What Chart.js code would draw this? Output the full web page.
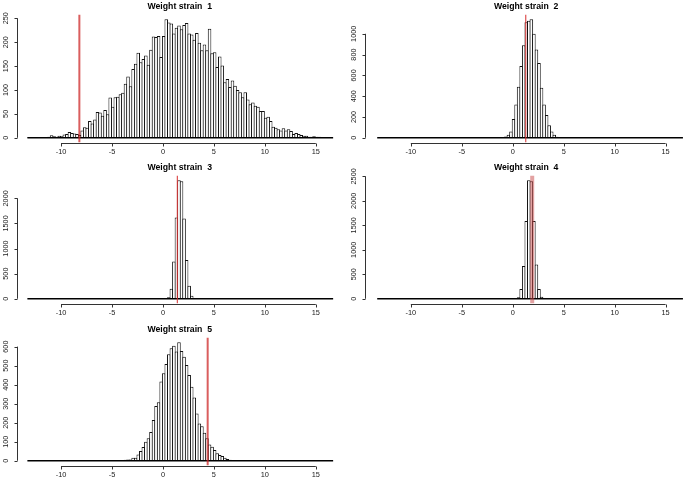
<!DOCTYPE html>
<html>
<head>
<meta charset="utf-8">
<title>Weight strain histograms</title>
<script src="https://cdn.jsdelivr.net/npm/chart.js@4.4.1/dist/chart.umd.min.js"></script>
<style>
  html, body { margin: 0; padding: 0; background: #fff; }
  #page { position: relative; width: 686px; height: 484px; overflow: hidden; }
  canvas { position: absolute; }
</style>
</head>
<body>
<div id="page">
  <canvas id="strain1" width="343" height="161" style="left:0;top:0"></canvas>
  <canvas id="strain2" width="343" height="161" style="left:343px;top:0"></canvas>
  <canvas id="strain3" width="343" height="161" style="left:0;top:161px"></canvas>
  <canvas id="strain4" width="343" height="161" style="left:343px;top:161px"></canvas>
  <canvas id="strain5" width="343" height="161" style="left:0;top:323px"></canvas>
</div>
<script>
// histogram breaks shared by all five panels
var breakStart = -13.3;
var binWidth = 0.25;
var binCount = 120;

var titles = ["Weight strain  1", "Weight strain  2", "Weight strain  3", "Weight strain  4", "Weight strain  5"];

// counts per bin; "first" = index of the first listed bin, bins outside are empty
var strain1First = 0;
var strain1Counts = [1,1,0,1,1,0,1,1,2,5,
  3,2,4,3,7,8,12,10,9,8,
  6,15,22,21,35,30,38,54,53,46,
  58,49,84,65,85,86,91,94,113,128,
  108,144,155,178,158,165,172,153,184,212,
  211,213,169,213,248,241,239,218,230,235,
  227,236,240,218,216,205,219,199,183,195,
  183,228,177,179,148,170,151,116,123,106,
  120,109,100,95,85,95,80,70,74,67,
  65,56,56,42,44,35,23,21,18,15,
  20,15,18,14,8,10,8,6,4,4,
  2,2,3,2,2,1,1,0,1,0];

var strain2First = 48;
var strain2Counts = [2,5,12,30,60,180,320,490,690,890,1110,1125,1140,1000,850,720,480,320,220,120,60,30,10,2];

var strain3First = 54;
var strain3Counts = [3,30,200,740,1620,2360,2340,1600,770,260,60,5];

var strain4First = 54;
var strain4Counts = [3,30,200,670,1590,2420,2400,1590,700,200,40,3];

var strain5First = 37;
var strain5Counts = [3,5,7,7,16,16,33,51,72,100,118,151,214,288,307,416,460,509,560,591,
  604,574,623,577,547,504,451,389,332,249,196,182,147,118,86,74,56,39,30,25,16,9,5,3,2];

// red vertical reference lines
var trueWeights = [-8.2, 1.28, 1.41, 1.91, 4.39];

// tick labels
var xTicks = [-10, -5, 0, 5, 10, 15];
var yTicks1 = [0, 50, 100, 150, 200, 250];
var yTicks2 = [0, 200, 400, 600, 800, 1000];
var yTicks3 = [0, 500, 1000, 1500, 2000];
var yTicks4 = [0, 500, 1000, 1500, 2000, 2500];
var yTicks5 = [0, 100, 200, 300, 400, 500, 600];

var FONT = '"Liberation Sans", Arial, Helvetica, sans-serif';
var W = 343, H = 161;
var plotTop = 14.5, plotBottom = 142.5;
var columns = [
  { left: 17.5, right: 342, xmin: -14.27, xmax: 17.57 },
  { left: 23.3, right: 343, xmin: -14.37, xmax: 17.0 }
];

// R-like axes: line from first to last tick, outward tick marks, title over the plot region
var rStyle = {
  id: "rStyle",
  afterDraw: function(chart, args, opts) {
    var ctx = chart.ctx, a = chart.chartArea;
    var xs = chart.scales.x, ys = chart.scales.y;
    var i, p;
    ctx.save();
    ctx.strokeStyle = "#333";
    ctx.lineWidth = 1;
    ctx.beginPath();
    var yb = Math.round(a.bottom) + 0.5;
    ctx.moveTo(xs.getPixelForValue(xTicks[0]), yb);
    ctx.lineTo(xs.getPixelForValue(xTicks[xTicks.length - 1]), yb);
    for (i = 0; i < xTicks.length; i++) {
      p = Math.round(xs.getPixelForValue(xTicks[i])) + 0.5;
      ctx.moveTo(p, yb);
      ctx.lineTo(p, yb + 3);
    }
    var xl = Math.round(a.left) - 0.5;
    ctx.moveTo(xl, ys.getPixelForValue(opts.yTicks[0]));
    ctx.lineTo(xl, ys.getPixelForValue(opts.yTicks[opts.yTicks.length - 1]));
    for (i = 0; i < opts.yTicks.length; i++) {
      p = Math.round(ys.getPixelForValue(opts.yTicks[i])) + 0.5;
      ctx.moveTo(xl, p);
      ctx.lineTo(xl - 3, p);
    }
    ctx.stroke();
    ctx.fillStyle = "#000";
    ctx.font = "bold 8.7px " + FONT;
    ctx.textAlign = "center";
    ctx.textBaseline = "middle";
    ctx.fillText(opts.title, (a.left + a.right) / 2, 6.5);
    ctx.restore();
  }
};

function labelPad(ticks, font, gap) {
  var ctx = document.createElement("canvas").getContext("2d");
  ctx.font = font;
  var w = 0;
  for (var i = 0; i < ticks.length; i++) {
    w = Math.max(w, ctx.measureText(String(ticks[i])).width);
  }
  return gap - w / 2;
}

function drawPanel(id, title, first, counts, ref, yTicks, col, refColor, refWidth) {
  var c = columns[col];
  var top = Math.max.apply(null, counts);
  var yMin = -0.04 * top, yMax = 1.04 * top;

  var bars = [];
  for (var i = 0; i < counts.length; i++) {
    bars.push({ x: breakStart + (first + i + 0.5) * binWidth, y: counts[i] });
  }
  var binPx = binWidth * (c.right - c.left) / (c.xmax - c.xmin);

  new Chart(document.getElementById(id), {
    type: "bar",
    data: {
      datasets: [
        { type: "line", data: [{ x: ref, y: yMin }, { x: ref, y: yMax }],
          borderColor: refColor, borderWidth: refWidth, pointRadius: 0, order: 0 },
        { type: "line", data: [{ x: breakStart, y: 0 }, { x: breakStart + binCount * binWidth, y: 0 }],
          borderColor: "#000", borderWidth: 1.5, pointRadius: 0, order: 1 },
        { type: "bar", data: bars, backgroundColor: "#fff", borderColor: "#111", borderWidth: 1,
          borderSkipped: "start", barPercentage: (binPx + 1) / binPx, categoryPercentage: 1,
          grouped: false, order: 2 }
      ]
    },
    options: {
      responsive: false,
      animation: false,
      devicePixelRatio: 1,
      layout: { padding: { left: 0, right: W - c.right, top: plotTop, bottom: 0 } },
      plugins: {
        legend: { display: false },
        tooltip: { enabled: false },
        rStyle: { title: title, yTicks: yTicks }
      },
      scales: {
        x: {
          type: "linear", min: c.xmin, max: c.xmax, offset: false,
          afterBuildTicks: function(s) { s.ticks = xTicks.map(function(v) { return { value: v }; }); },
          afterFit: function(s) { s.height = H - plotBottom; },
          grid: { display: false, drawTicks: false },
          border: { display: false },
          ticks: { font: { family: FONT, size: 7.4 }, color: "#222", padding: 5.5,
                   maxRotation: 0, autoSkip: false, callback: function(v) { return String(v); } }
        },
        y: {
          type: "linear", min: yMin, max: yMax,
          afterBuildTicks: function(s) { s.ticks = yTicks.map(function(v) { return { value: v }; }); },
          afterFit: function(s) { s.width = c.left; },
          grid: { display: false, drawTicks: false },
          border: { display: false },
          ticks: { font: { family: FONT, size: 7.3 }, color: "#222", autoSkip: false,
                   minRotation: 90, maxRotation: 90, crossAlign: "center",
                   padding: labelPad(yTicks, "7.3px " + FONT, 12),
                   callback: function(v) { return String(v); } }
        }
      }
    },
    plugins: [rStyle]
  });
}

drawPanel("strain1", titles[0], strain1First, strain1Counts, trueWeights[0], yTicks1, 0, "rgba(205,40,40,0.75)", 2);
drawPanel("strain2", titles[1], strain2First, strain2Counts, trueWeights[1], yTicks2, 1, "rgb(215,45,45)", 1);
drawPanel("strain3", titles[2], strain3First, strain3Counts, trueWeights[2], yTicks3, 0, "rgb(215,45,45)", 1);
drawPanel("strain4", titles[3], strain4First, strain4Counts, trueWeights[3], yTicks4, 1, "rgba(200,70,70,0.5)", 4);
drawPanel("strain5", titles[4], strain5First, strain5Counts, trueWeights[4], yTicks5, 0, "rgba(205,40,40,0.75)", 2);
</script>
</body>
</html>
